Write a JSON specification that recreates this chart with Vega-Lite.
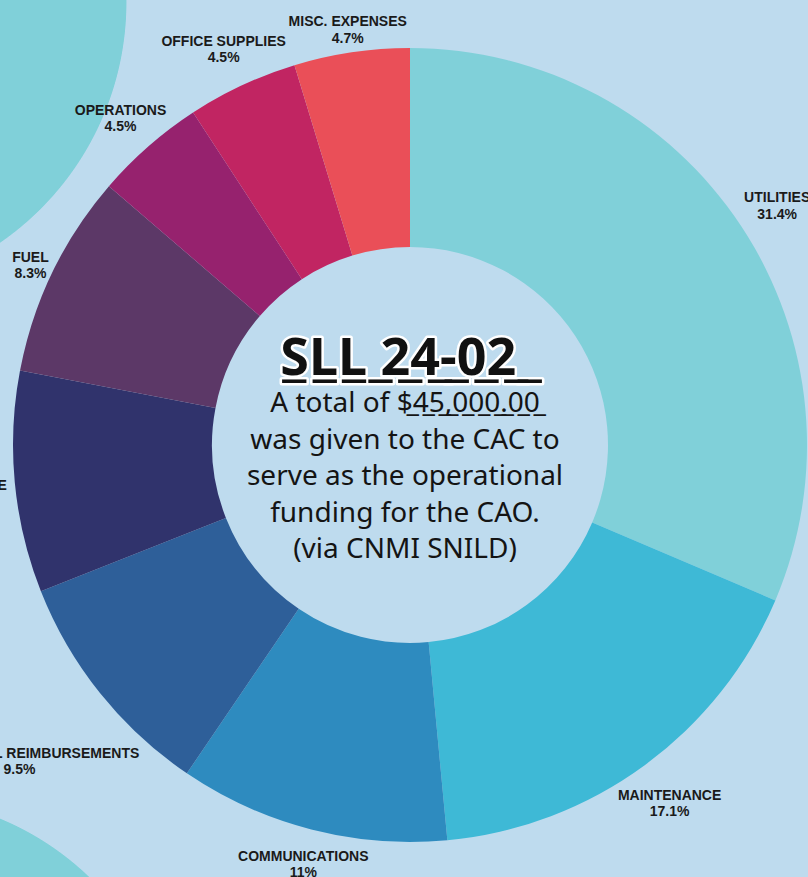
{
  "$schema": "https://vega.github.io/schema/vega-lite/v6.json",
  "width": 808,
  "height": 877,
  "autosize": {"type": "none"},
  "padding": 0,
  "background": "#BEDBEE",
  "config": {"view": {"stroke": null}},
  "datasets": {
    "budget": [
      {"i": 1, "category": "UTILITIES", "pct": 31.4, "pctLabel": "31.4%"},
      {"i": 2, "category": "MAINTENANCE", "pct": 17.1, "pctLabel": "17.1%"},
      {"i": 3, "category": "COMMUNICATIONS", "pct": 11, "pctLabel": "11%"},
      {"i": 4, "category": "STAFF TRAVEL REIMBURSEMENTS", "pct": 9.5, "pctLabel": "9.5%"},
      {"i": 5, "category": "TRAINING & LICENSE", "pct": 9, "pctLabel": "9%"},
      {"i": 6, "category": "FUEL", "pct": 8.3, "pctLabel": "8.3%"},
      {"i": 7, "category": "OPERATIONS", "pct": 4.5, "pctLabel": "4.5%"},
      {"i": 8, "category": "OFFICE SUPPLIES", "pct": 4.5, "pctLabel": "4.5%"},
      {"i": 9, "category": "MISC. EXPENSES", "pct": 4.7, "pctLabel": "4.7%"}
    ],
    "center": [
      {"title": "S\u0332L\u0332L\u0332 \u03322\u03324\u0332-\u03320\u03322\u0332 \u0332",
       "body": "A total of $\u03324\u03325\u0332,\u03320\u03320\u03320\u0332.\u03320\u03320\u0332\nwas given to the CAC to\nserve as the operational\nfunding for the CAO.\n(via CNMI SNILD)"}
    ],
    "decor": [{"shape": "backdrop"}]
  },
  "layer": [
    {
      "data": {"name": "decor"},
      "mark": {
        "type": "rect", "x": 0, "y": 0, "x2": {"expr": "width"}, "y2": {"expr": "height"},
        "fill": {
          "gradient": "radial",
          "x1": -0.150, "y1": 0.0023, "r1": 0,
          "x2": -0.150, "y2": 0.0023, "r2": 0.334,
          "stops": [
            {"offset": 0, "color": "#80D0D9"},
            {"offset": 0.997, "color": "#80D0D9"},
            {"offset": 1, "color": "rgba(128,208,217,0)"}
          ]
        }
      },
      "encoding": {}
    },
    {
      "data": {"name": "decor"},
      "mark": {
        "type": "rect", "x": 0, "y": 0, "x2": {"expr": "width"}, "y2": {"expr": "height"},
        "fill": {
          "gradient": "radial",
          "x1": -0.086, "y1": 1.236, "r1": 0,
          "x2": -0.086, "y2": 1.236, "r2": 0.328,
          "stops": [
            {"offset": 0, "color": "#80D0D9"},
            {"offset": 0.997, "color": "#80D0D9"},
            {"offset": 1, "color": "rgba(128,208,217,0)"}
          ]
        }
      },
      "encoding": {}
    },
    {
      "data": {"name": "budget"},
      "mark": {"type": "arc", "outerRadius": 397, "innerRadius": 198, "x": {"expr": "width/2 + 6"}, "y": {"expr": "height/2 + 6.5"}},
      "encoding": {
        "theta": {"field": "pct", "type": "quantitative", "stack": true},
        "order": {"field": "i", "type": "quantitative"},
        "color": {
          "field": "category",
          "type": "nominal",
          "legend": null,
          "scale": {
            "domain": ["UTILITIES", "MAINTENANCE", "COMMUNICATIONS", "STAFF TRAVEL REIMBURSEMENTS", "TRAINING & LICENSE", "FUEL", "OPERATIONS", "OFFICE SUPPLIES", "MISC. EXPENSES"],
            "range": ["#80D0D9", "#3EB9D6", "#2E8BBF", "#2E5F99", "#30336C", "#5C3867", "#96226E", "#C12562", "#EA4F58"]
          }
        }
      }
    },
    {
      "data": {"name": "budget"},
      "transform": [
        {"stack": "pct", "groupby": [], "sort": [{"field": "i"}], "as": ["p0", "p1"]},
        {"joinaggregate": [{"op": "sum", "field": "pct", "as": "total"}]},
        {"calculate": "PI * (datum.p0 + datum.p1) / datum.total", "as": "mid"},
        {"calculate": "max(length(datum.category), length(datum.pctLabel)) * 8.7", "as": "w"},
        {"calculate": "399 + abs(sin(datum.mid)) * datum.w / 2 + abs(cos(datum.mid)) * 15.5", "as": "R"},
        {"calculate": "datum.category + '\\n' + datum.pctLabel", "as": "label"}
      ],
      "mark": {"type": "text", "font": "Liberation Sans", "fontWeight": "bold", "fontSize": 14, "lineBreak": "\n", "lineHeight": 16.5, "align": "center", "baseline": "middle", "color": "#1a1a1a", "x": {"expr": "width/2 + 6"}, "y": {"expr": "height/2 + 2.5"}},
      "encoding": {
        "theta": {"field": "mid", "type": "quantitative", "scale": null, "stack": null},
        "radius": {"field": "R", "type": "quantitative", "scale": null},
        "text": {"field": "label"}
      }
    },
    {
      "data": {"name": "center"},
      "mark": {"type": "text", "font": "Noto Sans", "fontWeight": "bold", "fontSize": 52, "align": "center", "baseline": "alphabetic", "color": "#FFFFFF", "stroke": "#FFFFFF", "strokeWidth": 5, "strokeJoin": "round", "x": {"expr": "width/2 + 1"}, "y": {"expr": "height/2 - 63.5"}},
      "encoding": {"text": {"field": "title"}}
    },
    {
      "data": {"name": "center"},
      "mark": {"type": "text", "font": "Noto Sans", "fontWeight": "bold", "fontSize": 52, "align": "center", "baseline": "alphabetic", "color": "#111111", "x": {"expr": "width/2 + 1"}, "y": {"expr": "height/2 - 63.5"}},
      "encoding": {"text": {"field": "title"}}
    },
    {
      "data": {"name": "center"},
      "mark": {"type": "text", "font": "Noto Sans", "fontSize": 28, "lineBreak": "\n", "lineHeight": 36.6, "align": "center", "baseline": "top", "color": "#141414", "x": {"expr": "width/2 + 1"}, "y": {"expr": "height/2 - 48.5"}},
      "encoding": {"text": {"field": "body"}}
    }
  ]
}
